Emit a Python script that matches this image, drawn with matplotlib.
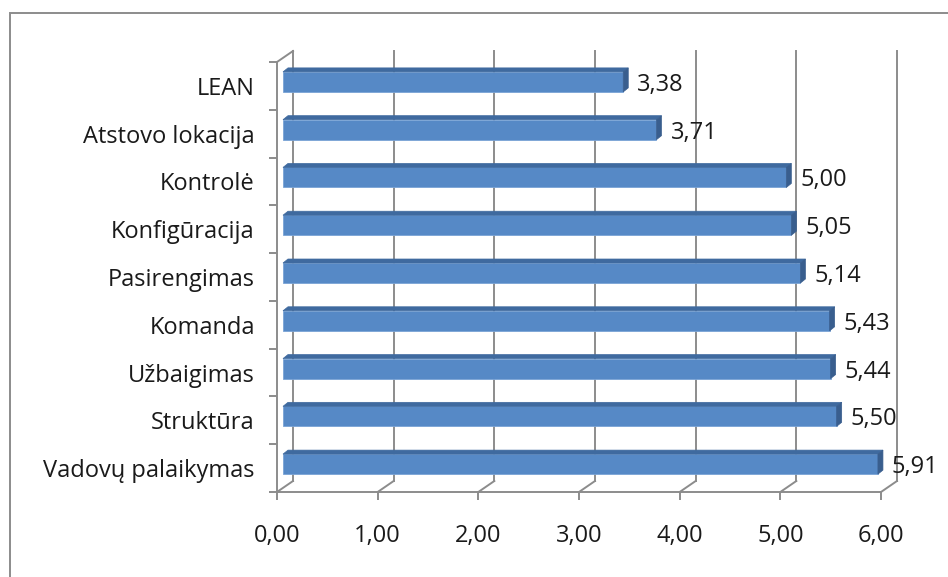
import matplotlib
matplotlib.use("Agg")
import matplotlib.pyplot as plt
from matplotlib.patches import Polygon, Rectangle

categories = ['LEAN', 'Atstovo lokacija', 'Kontrolė', 'Konfigūracija', 'Pasirengimas',
              'Komanda', 'Užbaigimas', 'Struktūra', 'Vadovų palaikymas']
values = [3.38, 3.71, 5.00, 5.05, 5.14, 5.43, 5.44, 5.50, 5.91]
xticks = [0, 1, 2, 3, 4, 5, 6]

plt.rcParams['font.family'] = ['Open Sans', 'DejaVu Sans']
fs = 17

W, H = 948, 577
fig = plt.figure(figsize=(W / 100, H / 100), dpi=100)

# front plane of the 3d box, in pixels
x0, x1 = 277, 881
ytop, ybot = 62, 492
ax = fig.add_axes([x0 / W, 1 - ybot / H, (x1 - x0) / W, (ybot - ytop) / H])
ax.set_xlim(0, 6)
ax.set_ylim(len(categories) - 0.5, -0.5)

pxx = (x1 - x0) / 6.0                 # px per value unit
pxy = (ybot - ytop) / len(categories)  # px per category

grid = '#8c8c8c'
# depth of the box (back wall offset)
ddx, ddy = 16 / pxx, 11 / pxy
# bar placement inside the depth
off_x, off_y = 6 / pxx, 4 / pxy
bd_x, bd_y = 5 / pxx, 4 / pxy
bh = 20 / pxy

n = len(categories)
for v in xticks:
    ax.plot([v + ddx, v + ddx], [n - 0.5 - ddy, -0.5 - ddy], color=grid, lw=1.4,
            clip_on=False, zorder=1)
    ax.plot([v, v + ddx], [n - 0.5, n - 0.5 - ddy], color=grid, lw=1.4,
            clip_on=False, zorder=1)
ax.plot([0, ddx], [-0.5, -0.5 - ddy], color=grid, lw=1.4, clip_on=False, zorder=1)

front = '#5689c6'
top = '#3f6a9f'
side = '#395e8e'
for i, v in enumerate(values):
    yc = i - off_y
    yt, yb = yc - bh / 2, yc + bh / 2
    ax.barh(yc, v, left=off_x, height=bh, color=front, edgecolor='#7aa3d6',
            linewidth=0.6, zorder=3, clip_on=False)
    ax.add_patch(Polygon([(off_x, yt), (off_x + bd_x, yt - bd_y),
                          (off_x + v + bd_x, yt - bd_y), (off_x + v, yt)],
                         closed=True, facecolor=top, edgecolor=top, lw=0.5,
                         zorder=3, clip_on=False))
    ax.add_patch(Polygon([(off_x + v, yt), (off_x + v + bd_x, yt - bd_y),
                          (off_x + v + bd_x, yb - bd_y), (off_x + v, yb)],
                         closed=True, facecolor=side, edgecolor=side, lw=0.5,
                         zorder=3, clip_on=False))
    ax.text(off_x + v + bd_x + 9 / pxx, yc + 3 / pxy, f'{v:.2f}'.replace('.', ','),
            ha='left', va='center', fontsize=fs, color='#1a1a1a', zorder=4)

for s in ['top', 'right']:
    ax.spines[s].set_visible(False)
for s in ['bottom', 'left']:
    ax.spines[s].set_color(grid)
    ax.spines[s].set_linewidth(1.4)

ax.set_xticks(xticks)
ax.set_xticklabels([f'{v:.2f}'.replace('.', ',') for v in xticks])
ax.tick_params(axis='x', length=6, width=1.4, color=grid, pad=17,
               labelsize=fs, labelcolor='#1a1a1a')
ax.set_yticks(range(n))
ax.set_yticklabels(categories)
ax.set_yticks([i - 0.5 for i in range(n + 1)], minor=True)
ax.tick_params(axis='y', which='major', length=0, pad=16, labelsize=fs,
               labelcolor='#1a1a1a')
ax.tick_params(axis='y', which='minor', length=6, width=1.4, color=grid)
ax.patch.set_visible(False)

# outer chart border (runs off the right and bottom)
fig.patches.append(Rectangle((10 / W, -0.1), 1.2, 1 - 13 / H + 0.1,
                             transform=fig.transFigure, fill=False,
                             edgecolor='#8c8c8c', linewidth=1.4))

fig.savefig('out.png', dpi=100)
